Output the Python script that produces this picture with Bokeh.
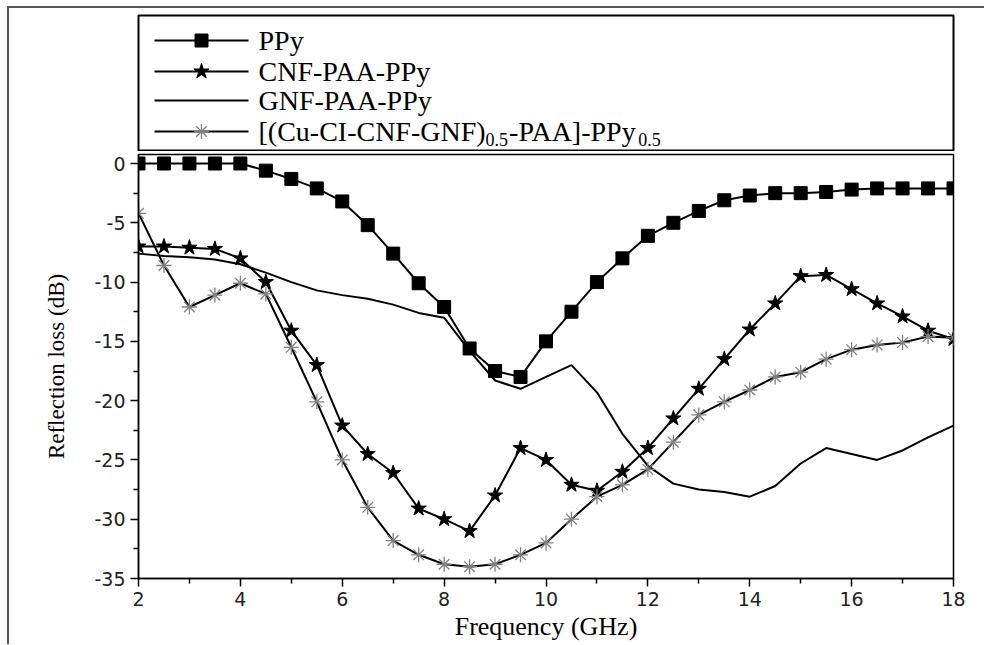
from bokeh.plotting import figure
from bokeh.layouts import column
from bokeh.models import Range1d, FixedTicker
from bokeh.core.properties import value
from bokeh.embed import file_html
from bokeh.resources import INLINE

# ---------------- data ----------------
freq = [2.0, 2.5, 3.0, 3.5, 4.0, 4.5, 5.0, 5.5, 6.0, 6.5, 7.0, 7.5, 8.0, 8.5, 9.0, 9.5,
        10.0, 10.5, 11.0, 11.5, 12.0, 12.5, 13.0, 13.5, 14.0, 14.5, 15.0, 15.5, 16.0,
        16.5, 17.0, 17.5, 18.0]

ppy = [0.0, 0.0, 0.0, 0.0, 0.0, -0.6, -1.3, -2.1, -3.2, -5.2, -7.6, -10.1, -12.1, -15.6,
       -17.5, -18.0, -15.0, -12.5, -10.0, -8.0, -6.1, -5.0, -4.0, -3.1, -2.7, -2.5, -2.5,
       -2.4, -2.2, -2.1, -2.1, -2.1, -2.1]

cnf_paa_ppy = [-7.0, -7.0, -7.1, -7.2, -8.0, -10.0, -14.1, -17.0, -22.1, -24.5, -26.1,
               -29.1, -30.0, -31.0, -28.0, -24.0, -25.0, -27.1, -27.6, -26.0, -24.0, -21.5,
               -19.0, -16.5, -14.0, -11.8, -9.5, -9.4, -10.6, -11.8, -12.9, -14.1, -14.8]

gnf_paa_ppy = [-7.6, -7.8, -7.9, -8.1, -8.5, -9.2, -10.0, -10.7, -11.1, -11.4, -11.9,
               -12.6, -13.0, -15.8, -18.3, -19.0, -18.0, -17.0, -19.3, -22.8, -25.5, -27.0,
               -27.5, -27.7, -28.1, -27.2, -25.3, -24.0, -24.5, -25.0, -24.2, -23.1, -22.1]

cu_ci_cnf_gnf = [-4.2, -8.6, -12.1, -11.1, -10.1, -11.0, -15.5, -20.1, -25.0, -29.0, -31.8,
                 -33.0, -33.8, -34.0, -33.8, -33.0, -32.0, -30.0, -28.1, -27.1, -25.8, -23.5,
                 -21.2, -20.1, -19.1, -18.0, -17.6, -16.5, -15.7, -15.3, -15.1, -14.6, -14.7]

series_labels = ["PPy", "CNF-PAA-PPy", "GNF-PAA-PPy"]
long_label_parts = ["[(Cu-CI-CNF-GNF)", "0.5", "-PAA]-PPy", "0.5"]

x_ticks = [2, 4, 6, 8, 10, 12, 14, 16, 18]
x_minor = [3, 5, 7, 9, 11, 13, 15, 17]
y_ticks = [-35, -30, -25, -20, -15, -10, -5, 0]
y_minor = [-32.5, -27.5, -22.5, -17.5, -12.5, -7.5, -2.5]

x_title = "Frequency (GHz)"
y_title = "Reflection loss (dB)"

# ---------------- layout constants ----------------
W = 975
H_TOP = 143
H_BOT = 493
BORDER_L = 129
BORDER_R = 31
FRAME_W = W - BORDER_L - BORDER_R
TOP_FRAME_H = H_TOP - 7
SERIF = value("Liberation Serif")
GREY = "#808080"

# ---------------- legend panel (its frame is the legend box) ----------------
top = figure(width=W, height=H_TOP, x_range=Range1d(0, FRAME_W),
             y_range=Range1d(TOP_FRAME_H, 0),
             toolbar_location=None, output_backend="svg",
             min_border_left=BORDER_L, min_border_right=BORDER_R,
             min_border_top=7, min_border_bottom=0,
             x_axis_type=None, y_axis_type=None)
top.outline_line_color = "black"
top.outline_line_width = 2

rows = [25, 56, 85, 116]
top.segment(x0=[16] * 4, x1=[110] * 4, y0=rows, y1=rows, line_color="black", line_width=2)
top.scatter([63], [rows[0]], marker="square", size=13, color="black")
top.scatter([63], [rows[1]], marker="star", size=16, color="black")
top.scatter([63], [rows[3]], marker="asterisk", size=15, line_color=GREY, line_width=1.3)

top.text(x=[120] * 3, y=rows[:3], text=series_labels, text_font=SERIF,
         text_font_size="28px", text_baseline="middle", text_color="black")

MAIN_PX, SUB_PX = 28, 18
x_p1 = 120
x_s1 = x_p1 + 8.110 * MAIN_PX
x_p3 = x_s1 + 1.25 * SUB_PX + 1
x_s2 = x_p3 + 4.611 * MAIN_PX
top.text(x=[x_p1, x_p3], y=[rows[3]] * 2, text=[long_label_parts[0], long_label_parts[2]],
         text_font=SERIF, text_font_size=f"{MAIN_PX}px", text_baseline="middle",
         text_color="black")
top.text(x=[x_s1, x_s2], y=[rows[3] + 8] * 2, text=[long_label_parts[1], long_label_parts[3]],
         text_font=SERIF, text_font_size=f"{SUB_PX}px", text_baseline="middle",
         text_color="black")

# ---------------- main plot ----------------
p = figure(width=W, height=H_BOT, x_range=Range1d(2, 18), y_range=Range1d(-35, 0.76),
           toolbar_location=None, output_backend="svg",
           min_border_left=BORDER_L, min_border_right=BORDER_R,
           min_border_top=3, min_border_bottom=66)
p.xgrid.visible = False
p.ygrid.visible = False
p.outline_line_color = "black"
p.outline_line_width = 1.5

p.line(freq, ppy, line_color="black", line_width=2)
p.scatter(freq, ppy, marker="square", size=13, color="black")

p.line(freq, cnf_paa_ppy, line_color="black", line_width=2)
p.scatter(freq, cnf_paa_ppy, marker="star", size=16, color="black")

p.line(freq, gnf_paa_ppy, line_color="black", line_width=2)

p.line(freq, cu_ci_cnf_gnf, line_color="black", line_width=2)
p.scatter(freq, cu_ci_cnf_gnf, marker="asterisk", size=15, line_color=GREY, line_width=1.3)

p.xaxis.ticker = FixedTicker(ticks=x_ticks, minor_ticks=x_minor)
p.yaxis.ticker = FixedTicker(ticks=y_ticks, minor_ticks=y_minor)
p.xaxis.major_label_overrides = {t: str(t) for t in x_ticks}
p.yaxis.major_label_overrides = {t: str(t) for t in y_ticks}

for ax in (p.xaxis[0], p.yaxis[0]):
    ax.axis_line_width = 1.5
    ax.axis_line_color = "black"
    ax.major_tick_line_width = 1.5
    ax.minor_tick_line_width = 1.5
    ax.major_tick_out = 8
    ax.major_tick_in = 0
    ax.minor_tick_out = 5
    ax.minor_tick_in = 0
    ax.major_label_text_font = "DejaVu Sans"
    ax.major_label_text_font_size = "19px"
    ax.major_label_text_color = "#222222"
    ax.axis_label_text_font = "Liberation Serif"
    ax.axis_label_text_font_style = "normal"
    ax.axis_label_text_color = "black"

p.xaxis.axis_label = x_title
p.xaxis.axis_label_text_font_size = "26px"
p.xaxis.axis_label_standoff = 3
p.xaxis.major_label_standoff = 5

p.yaxis.axis_label = y_title
p.yaxis.axis_label_text_font_size = "23px"
p.yaxis.axis_label_standoff = 22
p.yaxis.major_label_standoff = 5

layout = column(top, p, spacing=0,
                styles={"margin-left": "7px", "margin-top": "6px",
                        "border-top": "2px solid #555555",
                        "border-left": "2px solid #555555"})

open("out.html", "w").write(file_html(layout, INLINE))
